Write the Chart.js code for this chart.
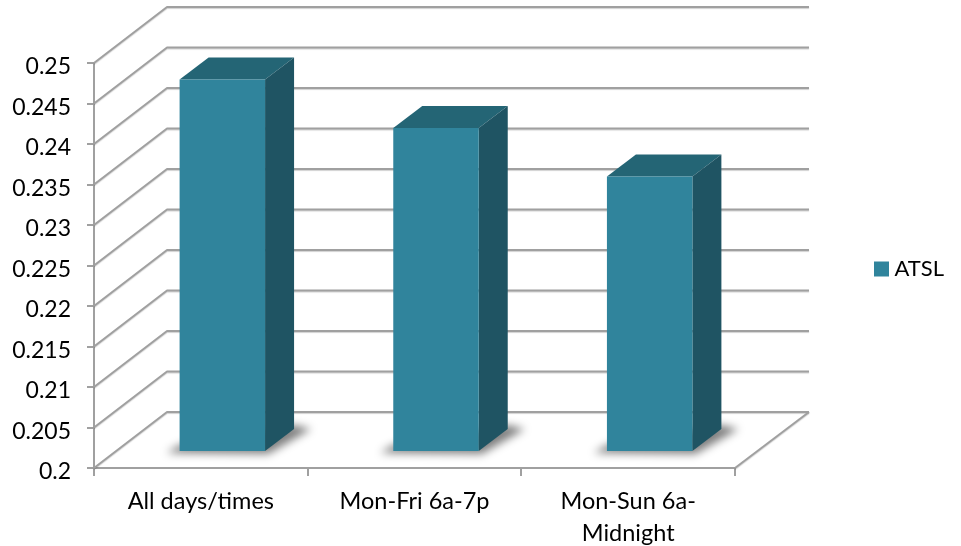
<!DOCTYPE html>
<html>
<head>
<meta charset="utf-8">
<title>ATSL</title>
<script src="https://cdn.jsdelivr.net/npm/chart.js@4"></script>
<style>
    html, body { margin: 0; padding: 0; background: #fff; }
    canvas { display: block; }
</style>
</head>
<body>
<canvas id="atslChart" width="961" height="546"></canvas>
<script>
const categories = ['All days/times', 'Mon-Fri 6a-7p', ['Mon-Sun 6a-', 'Midnight']];
const atslValues = [0.246, 0.24, 0.234];
const yTickLabels = ['0.2', '0.205', '0.21', '0.215', '0.22', '0.225', '0.23', '0.235', '0.24', '0.245', '0.25'];
const yMin = 0.2;
const yMax = 0.25;

const FONT = 'Lato, "Open Sans", sans-serif';
const GRID_COLOR = '#a0a0a0';

// depth of the box the chart sits in
const WALL_DX = 73;
const WALL_DY = -56;
// bars stand a little way back from the front edge of the floor
const BAR_SHIFT_X = 21.5;
const BAR_SHIFT_Y = -16;
const BAR_DX = 29;
const BAR_DY = -22;

function polygon(ctx, pts, fill) {
    ctx.beginPath();
    ctx.moveTo(pts[0][0], pts[0][1]);
    for (let i = 1; i < pts.length; i++) {
        ctx.lineTo(pts[i][0], pts[i][1]);
    }
    ctx.closePath();
    ctx.fillStyle = fill;
    ctx.fill();
}

function drawWalls(chart) {
    const ctx = chart.ctx;
    const { left, right, bottom } = chart.chartArea;
    const yScale = chart.scales.y;

    ctx.save();
    ctx.strokeStyle = GRID_COLOR;
    ctx.lineWidth = 2;
    ctx.lineJoin = 'round';
    ctx.shadowColor = 'rgba(0,0,0,0.18)';
    ctx.shadowBlur = 1;
    ctx.shadowOffsetY = 1;
    yScale.ticks.forEach((tick, i) => {
        const y = yScale.getPixelForTick(i);
        ctx.beginPath();
        ctx.moveTo(left, y);
        ctx.lineTo(left + WALL_DX, y + WALL_DY);
        ctx.lineTo(right + WALL_DX + 1, y + WALL_DY);
        ctx.stroke();
    });
    ctx.beginPath();
    ctx.moveTo(right, bottom);
    ctx.lineTo(right + WALL_DX + 1, bottom + WALL_DY);
    ctx.stroke();
    ctx.restore();
}

function drawBarSides(chart) {
    const ctx = chart.ctx;
    chart.getDatasetMeta(0).data.forEach(bar => {
        const x0 = bar.x - bar.width / 2 + BAR_SHIFT_X;
        const x1 = bar.x + bar.width / 2 + BAR_SHIFT_X;
        const top = bar.y + BAR_SHIFT_Y;
        const base = bar.base + BAR_SHIFT_Y;

        // soft shadow on the floor
        ctx.save();
        ctx.filter = 'blur(4px)';
        polygon(ctx, [
            [x0 - 13, base + 2],
            [x1 + 3, base + 3],
            [x1 + BAR_DX + 17, base + BAR_DY],
            [x1 + BAR_DX, base + BAR_DY - 4],
            [x0, base - 6]
        ], 'rgba(0,0,0,0.5)');
        ctx.restore();

        polygon(ctx, [[x0, top], [x1, top], [x1 + BAR_DX, top + BAR_DY], [x0 + BAR_DX, top + BAR_DY]], '#246575');
        polygon(ctx, [[x1, top], [x1 + BAR_DX, top + BAR_DY], [x1 + BAR_DX, base + BAR_DY], [x1, base]], '#1f5463');
    });
}

const box3d = {
    id: 'box3d',
    afterLayout(chart) {
        // legend sits out past the back wall
        const legend = chart.legend;
        legend.left = 874;
        legend.right = 944;
        legend.top = 258;
        legend.bottom = 292;
        legend.adjustHitBoxes();
    },
    beforeDatasetsDraw(chart) {
        drawWalls(chart);
        drawBarSides(chart);
    },
    beforeDatasetDraw(chart) {
        chart.ctx.save();
        chart.ctx.translate(BAR_SHIFT_X, BAR_SHIFT_Y);
    },
    afterDatasetDraw(chart) {
        chart.ctx.restore();
    }
};

function createChart() {
    const ctx = document.getElementById('atslChart').getContext('2d');

    new Chart(ctx, {
        type: 'bar',
        data: {
            labels: categories,
            datasets: [
                {
                    label: 'ATSL',
                    data: atslValues,
                    base: yMin,
                    backgroundColor: '#30849c',
                    borderWidth: 0,
                    barPercentage: 0.4,
                    categoryPercentage: 1
                }
            ]
        },
        options: {
            responsive: false,
            animation: false,
            layout: {
                padding: { top: 63, right: 226, bottom: 0, left: 0 }
            },
            scales: {
                x: {
                    afterFit: scale => { scale.height = 78; },
                    grid: { drawOnChartArea: false, color: GRID_COLOR, lineWidth: 2, tickLength: 8 },
                    border: { color: GRID_COLOR, width: 2 },
                    ticks: {
                        color: '#000',
                        padding: 10,
                        maxRotation: 0,
                        autoSkip: false,
                        font: { family: FONT, size: 23.5, lineHeight: 1.35 }
                    }
                },
                y: {
                    min: yMin,
                    max: yMax,
                    afterFit: scale => { scale.width = 94; },
                    grid: { drawOnChartArea: false, color: GRID_COLOR, lineWidth: 2, tickLength: 7 },
                    border: { color: GRID_COLOR, width: 2 },
                    ticks: {
                        stepSize: 0.005,
                        color: '#000',
                        padding: 16,
                        labelOffset: 4,
                        callback: (value, index) => yTickLabels[index],
                        font: { family: FONT, size: 23 }
                    }
                }
            },
            plugins: {
                tooltip: { enabled: false },
                legend: {
                    position: 'chartArea',
                    align: 'start',
                    labels: {
                        boxWidth: 15,
                        boxHeight: 15,
                        padding: 0,
                        color: '#000',
                        textAlign: 'right',
                        font: { family: FONT, size: 22 }
                    }
                }
            }
        },
        plugins: [box3d]
    });
}

window.onload = createChart;
</script>
</body>
</html>
